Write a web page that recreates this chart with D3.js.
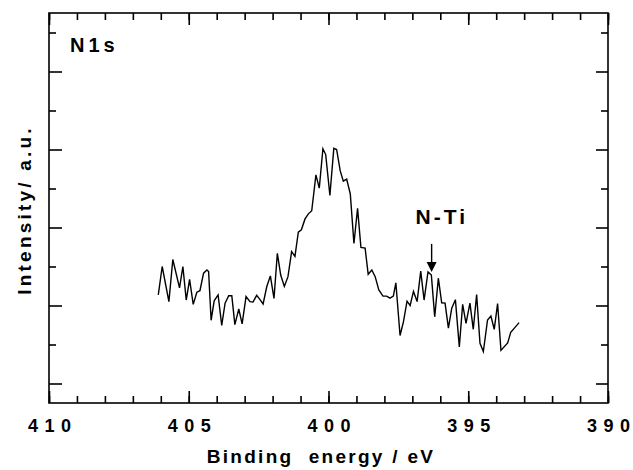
<!doctype html>
<html>
<head>
<meta charset="utf-8">
<script src="https://d3js.org/d3.v7.min.js"></script>
<style>
  body { margin: 0; background: #fff; }
  text { font-family: "Liberation Sans", Arial, sans-serif; font-weight: bold; fill: #000; }
</style>
</head>
<body>
<svg id="chart" width="633" height="470"></svg>
<script>
// binding energy (eV) and intensity (a.u.)
var energy = [406.09, 405.95, 405.71, 405.57, 405.33, 405.21, 405.09, 404.97, 404.84, 404.71,
  404.60, 404.47, 404.35, 404.29, 404.20, 404.09, 403.95, 403.82, 403.70, 403.57,
  403.46, 403.35, 403.21, 403.09, 402.95, 402.81, 402.70, 402.57, 402.45, 402.34,
  402.21, 402.08, 401.95, 401.83, 401.71, 401.58, 401.45, 401.32, 401.20, 401.08,
  400.97, 400.84, 400.72, 400.60, 400.45, 400.33, 400.20, 400.10, 399.95, 399.81,
  399.71, 399.58, 399.47, 399.35, 399.22, 399.09, 398.96, 398.84, 398.69, 398.58,
  398.45, 398.33, 398.20, 398.05, 397.92, 397.80, 397.68, 397.59, 397.44, 397.32,
  397.19, 397.08, 396.96, 396.83, 396.70, 396.58, 396.44, 396.32, 396.20, 396.07,
  395.95, 395.83, 395.71, 395.59, 395.46, 395.32, 395.20, 395.08, 394.94, 394.82,
  394.70, 394.58, 394.46, 394.31, 394.19, 394.07, 393.95, 393.83, 393.59, 393.48,
  393.35, 393.18];
var intensity = [2.77, 3.50, 2.60, 3.68, 2.95, 3.50, 2.64, 3.17, 2.53, 2.84,
  2.88, 3.33, 3.41, 3.37, 2.12, 2.62, 2.77, 1.99, 2.56, 2.75,
  2.75, 2.01, 2.41, 2.03, 2.73, 2.60, 2.59, 2.76, 2.65, 2.54,
  2.98, 3.26, 2.68, 3.84, 3.28, 2.99, 3.24, 3.88, 3.76, 4.38,
  4.44, 4.72, 4.85, 4.93, 5.85, 5.51, 6.52, 6.37, 5.32, 6.53,
  6.50, 5.95, 5.69, 5.74, 5.36, 4.09, 4.99, 3.99, 3.97, 3.30,
  3.41, 3.24, 2.90, 2.74, 2.74, 2.69, 2.74, 3.08, 1.73, 2.08,
  2.61, 2.50, 2.86, 2.60, 3.38, 2.64, 3.36, 3.28, 2.21, 3.20,
  2.57, 2.56, 1.92, 2.43, 2.65, 1.44, 2.53, 2.04, 2.56, 1.89,
  2.78, 1.53, 1.32, 2.13, 2.23, 1.89, 2.55, 1.35, 1.54, 1.81,
  1.92, 2.06];

var xMajor = [410, 405, 400, 395, 390];
var xMinor = d3.range(390, 411, 1);
var yMajor = [0.5, 2.5, 4.5, 6.5, 8.5];
var yMinor = [1.5, 3.5, 5.5, 7.5, 9.5];

// N-Ti marker (eV, from / to intensity)
var arrowEnergy = 396.31;
var arrowFrom = 4.08, arrowTo = 3.36;

var plotL = 49, plotR = 608, plotT = 13, plotB = 403;

var xScale = d3.scaleLinear().domain([410, 390]).range([plotL, plotR]);
var yScale = d3.scaleLinear().domain([0, 10]).range([plotB, plotT]);

var svg = d3.select('#chart');

function tickAxis(axis, values, size, transform) {
  var g = svg.append('g').attr('transform', transform)
    .call(axis.tickValues(values).tickSize(size).tickSizeOuter(0).tickFormat(''));
  g.select('.domain').remove();
  g.selectAll('line').style('stroke', '#000').style('stroke-width', '1.6px');
  return g;
}

// x ticks, bottom and top, pointing inward
tickAxis(d3.axisBottom(xScale), xMinor, -7, 'translate(0,' + plotB + ')');
tickAxis(d3.axisBottom(xScale), xMajor, -12, 'translate(0,' + plotB + ')');
tickAxis(d3.axisTop(xScale), xMinor, -7, 'translate(0,' + plotT + ')');
tickAxis(d3.axisTop(xScale), xMajor, -12, 'translate(0,' + plotT + ')');
// y ticks, left and right
tickAxis(d3.axisLeft(yScale), yMinor, -7, 'translate(' + plotL + ',0)');
tickAxis(d3.axisLeft(yScale), yMajor, -13, 'translate(' + plotL + ',0)');
tickAxis(d3.axisRight(yScale), yMinor, -7, 'translate(' + plotR + ',0)');
tickAxis(d3.axisRight(yScale), yMajor, -12, 'translate(' + plotR + ',0)');

// x tick labels
var xLab = svg.append('g')
  .attr('transform', 'translate(0,' + plotB + ')')
  .call(d3.axisBottom(xScale).tickValues(xMajor).tickSize(0).tickPadding(16).tickFormat(d3.format('d')));
xLab.select('.domain').remove();
xLab.selectAll('text')
  .style('font-family', '"Liberation Sans", Arial, sans-serif')
  .style('font-weight', 'bold')
  .style('font-size', '18px')
  .style('letter-spacing', '6.5px')
  .attr('dx', '3.2px')
  .attr('fill', '#000');

// frame
svg.append('rect')
  .attr('x', plotL).attr('y', plotT)
  .attr('width', plotR - plotL).attr('height', plotB - plotT)
  .style('fill', 'none').style('stroke', '#000').style('stroke-width', '1.6px');

// spectrum
var line = d3.line()
  .x(function (d, i) { return xScale(energy[i]); })
  .y(function (d) { return yScale(d); });

svg.append('path')
  .datum(intensity)
  .attr('d', line)
  .style('fill', 'none')
  .style('stroke', '#000')
  .style('stroke-width', '1.4px')
  .style('stroke-linejoin', 'miter');

// arrow to N-Ti feature
var ax = xScale(arrowEnergy);
svg.append('line')
  .attr('x1', ax).attr('x2', ax)
  .attr('y1', yScale(arrowFrom)).attr('y2', yScale(arrowTo) - 8)
  .style('stroke', '#000').style('stroke-width', '1.4px');
svg.append('path')
  .attr('d', 'M' + (ax - 5) + ',' + (yScale(arrowTo) - 10) + 'L' + (ax + 5) + ',' + (yScale(arrowTo) - 10) + 'L' + ax + ',' + yScale(arrowTo) + 'Z')
  .style('fill', '#000');

svg.append('text')
  .attr('x', xScale(396.0)).attr('y', yScale(4.59))
  .attr('text-anchor', 'middle')
  .attr('dx', '1.5px')
  .style('font-size', '21px')
  .style('letter-spacing', '3px')
  .text('N-Ti');

svg.append('text')
  .attr('x', xScale(409.25)).attr('y', yScale(9.0))
  .style('font-size', '20px')
  .style('letter-spacing', '4px')
  .text('N1s');

// axis titles
svg.append('text')
  .attr('x', 321).attr('y', 463)
  .attr('text-anchor', 'middle')
  .style('font-size', '19px')
  .style('letter-spacing', '2.3px')
  .style('white-space', 'pre')
  .text('Binding  energy / eV');

svg.append('text')
  .attr('transform', 'translate(31,' + 210 + ') rotate(-90)')
  .attr('text-anchor', 'middle')
  .style('font-size', '19px')
  .style('letter-spacing', '3.2px')
  .style('white-space', 'pre')
  .text('Intensity/ a.u.');
</script>
</body>
</html>
